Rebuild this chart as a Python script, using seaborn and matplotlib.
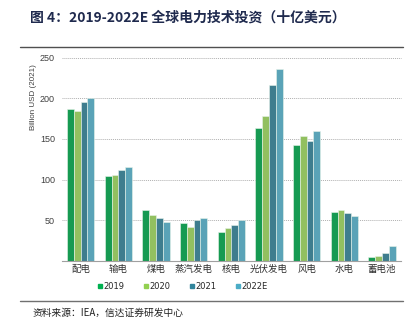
import matplotlib
matplotlib.use("Agg")
import matplotlib.pyplot as plt
from matplotlib.lines import Line2D
import seaborn as sns
import pandas as pd

categories = ["配电", "输电", "煤电", "蒸汽发电", "核电", "光伏发电", "风电", "水电", "蓄电池"]
years = ["2019", "2020", "2021", "2022E"]
v2019 = [187, 104, 62, 46, 35, 164, 143, 60, 5]
v2020 = [185, 106, 56, 41, 40, 178, 154, 62, 6]
v2021 = [196, 112, 52, 50, 44, 217, 148, 59, 10]
v2022 = [201, 116, 48, 52, 50, 236, 160, 55, 18]
yticks = [50, 100, 150, 200, 250]
colors = ["#00B050", "#92D050", "#31849B", "#4BACC6"]

sns.set_style("white")
plt.rcParams["font.family"] = ["Noto Sans CJK SC", "DejaVu Sans"]

rows = []
for yr, vals in zip(years, [v2019, v2020, v2021, v2022]):
    for c, v in zip(categories, vals):
        rows.append({"cat": c, "year": yr, "value": v})
df = pd.DataFrame(rows)

fig = plt.figure(figsize=(4.15, 3.3), dpi=100)
ax = fig.add_axes([0.149, 0.21, 0.817, 0.615])

sns.barplot(data=df, x="cat", y="value", hue="year", order=categories,
            hue_order=years, palette=colors, width=0.72, ax=ax,
            edgecolor="#e8f4ea", linewidth=0.4, legend=False)

ax.set_ylim(0, 250)
ax.set_xlim(-0.5, len(categories) - 0.5)
ax.set_yticks(yticks)
ax.set_yticklabels([str(t) for t in yticks], fontsize=6.5, color="#404040",
                   family=["Liberation Sans Narrow", "Liberation Sans", "DejaVu Sans"])
ax.tick_params(axis="y", length=0, pad=5)
ax.tick_params(axis="x", length=0, pad=3)
ax.set_xticks(range(len(categories)))
ax.set_xticklabels(categories, fontsize=6.8, color="#303030")
for t in yticks:
    ax.axhline(t, color="#b0b0b0", lw=0.7, ls=(0, (1, 1)), zorder=0, clip_on=False)
ax.set_xlabel("")
ax.set_ylabel("")
for s in ["left", "top", "right"]:
    ax.spines[s].set_visible(False)
ax.spines["bottom"].set_color("#a0a0a0")
ax.spines["bottom"].set_linewidth(0.8)

fig.text(0.08, 0.705, "Billion USD (2021)", rotation=90, ha="center", va="center",
         fontsize=5.8, color="#404040",
         family=["Liberation Sans Narrow", "Liberation Sans", "DejaVu Sans"])

# legend
handles = [Line2D([0], [0], marker="s", ls="", markersize=3, color=c) for c in colors]
fig.legend(handles, years, loc="center", bbox_to_anchor=(0.44, 0.131), ncol=4,
           frameon=False, fontsize=6, handletextpad=0.0, columnspacing=2.2,
           handlelength=0.8, prop={"family": ["Liberation Sans Narrow", "DejaVu Sans"], "size": 6})

# title and frame lines
fig.text(0.072, 0.948, "图 4：2019-2022E 全球电力技术投资（十亿美元）", fontsize=10,
         fontweight="bold", color="#1F2A4E", va="center", ha="left")
fig.add_artist(Line2D([0.048, 0.972], [0.858, 0.858], color="#505050", lw=1.0))
fig.add_artist(Line2D([0.048, 0.972], [0.088, 0.088], color="#707070", lw=1.0))
fig.text(0.078, 0.052, "资料来源：IEA，信达证券研发中心", fontsize=7, color="#202020",
         va="center", ha="left", style="italic")

fig.savefig("out.png", dpi=100)
